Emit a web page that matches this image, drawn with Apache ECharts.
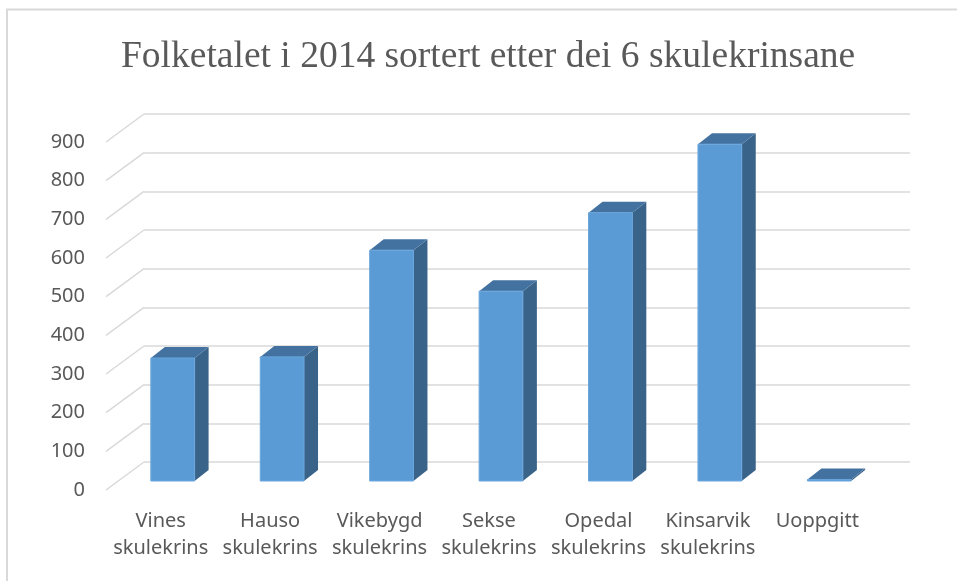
<!DOCTYPE html>
<html>
  <head>
    <meta charset="utf-8" />
    <title>Folketalet i 2014</title>
    <script src="https://cdn.jsdelivr.net/npm/echarts@6/dist/echarts.min.js"></script>
    <style>
      * {
        margin: 0;
        padding: 0;
        box-sizing: border-box;
      }
      body {
        background: #fff;
      }
    </style>
  </head>
  <body>
    <div id="main" style="width: 957px; height: 581px"></div>
    <script type="text/javascript">
      var myChart = echarts.init(document.getElementById("main"));

      const categories = [
        "Vines\nskulekrins",
        "Hauso\nskulekrins",
        "Vikebygd\nskulekrins",
        "Sekse\nskulekrins",
        "Opedal\nskulekrins",
        "Kinsarvik\nskulekrins",
        "Uoppgitt",
      ];
      const folketal = [318, 321, 597, 491, 694, 871, 4];
      const yTicks = [0, 100, 200, 300, 400, 500, 600, 700, 800, 900];

      // forskyving frå bakvegg til framkant (3D-golv)
      const depthX = -38;
      const depthY = 28;

      const labelColor = "#595959";
      const gridColor = "#d9d9d9";

      var option = {
        animation: false,
        title: {
          text: "Folketalet i 2014 sortert etter dei 6 skulekrinsane",
          left: 116,
          top: 33,
          textStyle: {
            fontFamily: "Liberation Serif",
            fontWeight: "normal",
            fontSize: 37.5,
            color: labelColor,
          },
        },
        graphic: [
          {
            type: "polyline",
            shape: { points: [[7, 581], [7, 9.5], [957, 9.5]] },
            style: { stroke: gridColor, lineWidth: 2, fill: null },
          },
        ],
        grid: [
          // bakvegg
          { left: 144, right: 47, top: 114, bottom: 119 },
          // framkant (aksetekstar)
          { left: 106, right: 85, top: 142, bottom: 91 },
        ],
        xAxis: [
          {
            type: "category",
            gridIndex: 0,
            data: categories,
            axisLine: { show: false },
            axisTick: { show: false },
            axisLabel: { show: false },
          },
          {
            type: "category",
            gridIndex: 1,
            data: categories,
            axisLine: { show: false },
            axisTick: { show: false },
            axisLabel: {
              margin: 18,
              color: labelColor,
              fontFamily: "Noto Sans",
              fontSize: 20,
              lineHeight: 27,
              interval: 0,
            },
          },
        ],
        yAxis: [
          {
            type: "value",
            gridIndex: 0,
            min: 0,
            max: 900,
            interval: 100,
            axisLine: { show: false },
            axisTick: { show: false },
            axisLabel: { show: false },
            splitLine: { lineStyle: { color: gridColor, width: 1.5 } },
          },
          {
            type: "value",
            gridIndex: 1,
            min: 0,
            max: 900,
            interval: 100,
            axisLine: { show: false },
            axisTick: { show: false },
            splitLine: { show: false },
            axisLabel: {
              margin: 21,
              color: labelColor,
              fontFamily: "Noto Sans",
              fontSize: 20,
            },
          },
        ],
        series: [
          // skrå linjer på golvet
          {
            type: "custom",
            xAxisIndex: 0,
            yAxisIndex: 0,
            silent: true,
            renderItem: function (params, api) {
              const y = api.coord([0, api.value(0)])[1];
              const x0 = params.coordSys.x;
              return {
                type: "line",
                shape: { x1: x0 + depthX, y1: y + depthY, x2: x0, y2: y },
                style: { stroke: gridColor, lineWidth: 1.5 },
              };
            },
            data: yTicks.map((v) => [v]),
            encode: { y: 0 },
          },
          // 3D-søyler
          {
            type: "custom",
            xAxisIndex: 0,
            yAxisIndex: 0,
            renderItem: function (params, api) {
              const top = api.coord([api.value(0), api.value(1)]);
              const base = api.coord([api.value(0), 0]);
              const band = api.size([1, 0])[0];
              const w = band * 0.4;
              const fx = -26,
                fy = 19; // framside
              const dx = 14,
                dy = -11; // djupn
              const x = top[0] - w / 2 + fx;
              const yt = top[1] + fy;
              const yb = base[1] + fy;
              return {
                type: "group",
                children: [
                  {
                    type: "polygon",
                    shape: {
                      points: [
                        [x + w, yt],
                        [x + w + dx, yt + dy],
                        [x + w + dx, yb + dy],
                        [x + w, yb],
                      ],
                    },
                    style: { fill: "#3a6389" },
                  },
                  {
                    type: "polygon",
                    shape: {
                      points: [
                        [x, yt],
                        [x + dx, yt + dy],
                        [x + w + dx, yt + dy],
                        [x + w, yt],
                      ],
                    },
                    style: { fill: "#4472a0" },
                  },
                  {
                    type: "rect",
                    shape: { x: x, y: yt, width: w, height: yb - yt },
                    style: { fill: "#5b9bd5", stroke: "#6aa6dc", lineWidth: 1 },
                  },
                ],
              };
            },
            data: folketal.map((v, i) => [i, v]),
            encode: { x: 0, y: 1 },
          },
        ],
      };

      myChart.setOption(option);

      window.addEventListener("resize", function () {
        myChart.resize();
      });
    </script>
  </body>
</html>
